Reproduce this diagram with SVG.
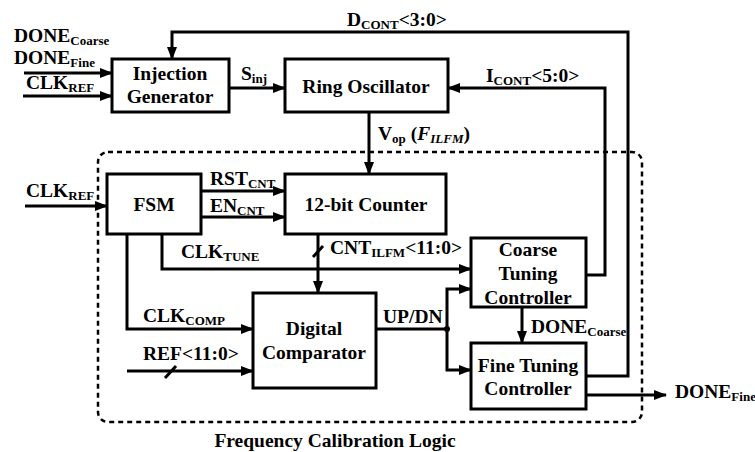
<svg xmlns="http://www.w3.org/2000/svg" width="755" height="452" viewBox="0 0 755 452">
<style>
  .box { fill: #fff; stroke: #000; stroke-width: 3; }
  .w { fill: none; stroke: #000; stroke-width: 3; }
  .t { font-family: "Liberation Serif", "Times New Roman", serif; font-weight: bold; font-size: 19.5px; fill: #000; }
  .c { text-anchor: middle; }
  .s { font-size: 13px; }
</style>
<defs>
  <marker id="ah" markerUnits="userSpaceOnUse" markerWidth="13" markerHeight="10" refX="12" refY="5" orient="auto">
    <path d="M0,0 L13,5 L0,10 z" fill="#000"/>
  </marker>
</defs>

<rect x="98" y="152" width="544" height="270" rx="10" fill="none" stroke="#000" stroke-width="2.5" stroke-dasharray="5,4"/>

<g id="connectors">
  <path class="w" d="M24,73 H112" marker-end="url(#ah)"/>
  <path class="w" d="M23,96 H112" marker-end="url(#ah)"/>
  <path class="w" d="M586,376 H628 V32 H172 V59" marker-end="url(#ah)"/>
  <path class="w" d="M586,275 H605 V88 H448" marker-end="url(#ah)"/>
  <path class="w" d="M229,88 H285" marker-end="url(#ah)"/>
  <path class="w" d="M369,112 V174" marker-end="url(#ah)"/>
  <path class="w" d="M25,206 H107" marker-end="url(#ah)"/>
  <path class="w" d="M201,191 H285" marker-end="url(#ah)"/>
  <path class="w" d="M201,217 H285" marker-end="url(#ah)"/>
  <path class="w" d="M318,234 V293" marker-end="url(#ah)"/>
  <path class="w" d="M313,257 L323,246"/>
  <path class="w" d="M162,234 V269 H471" marker-end="url(#ah)"/>
  <path class="w" d="M127,234 V329 H253" marker-end="url(#ah)"/>
  <path class="w" d="M127,371 H253" marker-end="url(#ah)"/>
  <path class="w" d="M165,378 L176,366"/>
  <path class="w" d="M376,329 H447"/>
  <path class="w" d="M447,329 V289 H471" marker-end="url(#ah)"/>
  <path class="w" d="M447,329 V370 H471" marker-end="url(#ah)"/>
  <circle cx="447" cy="329" r="3" fill="#000"/>
  <path class="w" d="M522,307 V343" marker-end="url(#ah)"/>
  <path class="w" d="M586,395 H666" marker-end="url(#ah)"/>
</g>

<g id="injection">
  <rect class="box" x="112" y="59" width="117" height="53"/>
  <text class="t c" x="170" y="80">Injection</text>
  <text class="t c" x="170" y="103">Generator</text>
</g>
<g id="ring">
  <rect class="box" x="285" y="59" width="163" height="53"/>
  <text class="t c" x="366" y="93">Ring Oscillator</text>
</g>
<g id="fsm">
  <rect class="box" x="107" y="174" width="94" height="60"/>
  <text class="t c" x="154" y="211">FSM</text>
</g>
<g id="counter">
  <rect class="box" x="285" y="174" width="161" height="60"/>
  <text class="t c" x="366" y="211">12-bit Counter</text>
</g>
<g id="coarse">
  <rect class="box" x="471" y="238" width="115" height="69"/>
  <text class="t c" x="528" y="256">Coarse</text>
  <text class="t c" x="528" y="280">Tuning</text>
  <text class="t c" x="528" y="304">Controller</text>
</g>
<g id="comparator">
  <rect class="box" x="253" y="293" width="123" height="95"/>
  <text class="t c" x="314" y="335">Digital</text>
  <text class="t c" x="314" y="359">Comparator</text>
</g>
<g id="fine">
  <rect class="box" x="471" y="343" width="115" height="66"/>
  <text class="t c" x="528" y="372">Fine Tuning</text>
  <text class="t c" x="528" y="395">Controller</text>
</g>

<g id="labels">
  <text class="t" x="14" y="42">DONE<tspan class="s" dy="3">Coarse</tspan></text>
  <text class="t" x="14" y="64">DONE<tspan class="s" dy="3">Fine</tspan></text>
  <text class="t" x="26" y="89">CLK<tspan class="s" dy="3">REF</tspan></text>
  <text class="t" x="241" y="80">S<tspan class="s" dy="3">inj</tspan></text>
  <text class="t" x="347" y="26">D<tspan class="s" dy="3">CONT</tspan><tspan dy="-3">&lt;3:0&gt;</tspan></text>
  <text class="t" x="486" y="82">I<tspan class="s" dy="3">CONT</tspan><tspan dy="-3">&lt;5:0&gt;</tspan></text>
  <text class="t" x="378" y="140">V<tspan class="s" dy="3">op</tspan><tspan dy="-3"> (</tspan><tspan font-style="italic">F</tspan><tspan class="s" font-style="italic" dy="3">ILFM</tspan><tspan dy="-3">)</tspan></text>
  <text class="t" x="26" y="197">CLK<tspan class="s" dy="3">REF</tspan></text>
  <text class="t" x="210" y="185">RST<tspan class="s" dy="3">CNT</tspan></text>
  <text class="t" x="210" y="212">EN<tspan class="s" dy="3">CNT</tspan></text>
  <text class="t" x="181" y="258">CLK<tspan class="s" dy="3">TUNE</tspan></text>
  <text class="t" x="330" y="254">CNT<tspan class="s" dy="3">ILFM</tspan><tspan dy="-3">&lt;11:0&gt;</tspan></text>
  <text class="t" x="143" y="322">CLK<tspan class="s" dy="3">COMP</tspan></text>
  <text class="t" x="143" y="360">REF&lt;11:0&gt;</text>
  <text class="t" x="383" y="323">UP/DN</text>
  <text class="t" x="531" y="333">DONE<tspan class="s" dy="3">Coarse</tspan></text>
  <text class="t" x="675" y="398">DONE<tspan class="s" dy="3">Fine</tspan></text>
  <text class="t c" x="335" y="447">Frequency Calibration Logic</text>
</g>
</svg>
